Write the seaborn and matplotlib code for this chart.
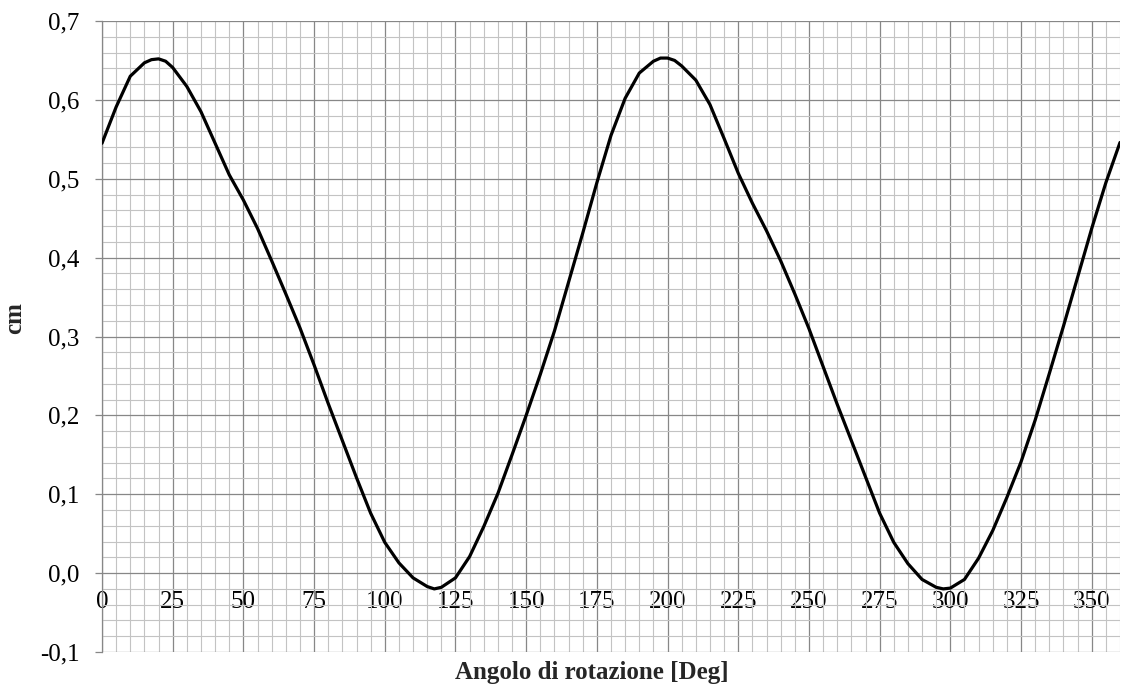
import matplotlib
matplotlib.use("Agg")
import matplotlib.pyplot as plt
from matplotlib.ticker import MultipleLocator, FixedLocator, FixedFormatter
import seaborn as sns
import pandas as pd

# ---- data ----
angle_deg = [0, 5, 10, 15, 17.5, 20, 22.5, 25, 30, 35, 40, 45, 50, 55, 60, 65, 70,
             75, 80, 85, 90, 95, 100, 105, 110, 115, 117.5, 120, 125, 130, 135, 140,
             145, 150, 155, 160, 165, 170, 175, 180, 185, 190, 195, 197.5, 200,
             202.5, 205, 210, 215, 220, 225, 230, 235, 240, 245, 250, 255, 260, 265,
             270, 275, 280, 285, 290, 295, 297.5, 300, 305, 310, 315, 320, 325, 330,
             335, 340, 345, 350, 355, 360]
displacement_cm = [0.545, 0.591, 0.630, 0.647, 0.651, 0.652, 0.649, 0.641, 0.617,
                   0.585, 0.545, 0.505, 0.473, 0.437, 0.396, 0.354, 0.311, 0.264,
                   0.215, 0.168, 0.121, 0.076, 0.039, 0.013, -0.006, -0.017, -0.020,
                   -0.018, -0.006, 0.021, 0.059, 0.101, 0.150, 0.200, 0.252, 0.307,
                   0.369, 0.431, 0.495, 0.555, 0.602, 0.634, 0.649, 0.653, 0.653,
                   0.650, 0.643, 0.625, 0.594, 0.551, 0.507, 0.469, 0.434, 0.396,
                   0.354, 0.310, 0.262, 0.214, 0.168, 0.122, 0.076, 0.039, 0.012,
                   -0.008, -0.018, -0.020, -0.019, -0.008, 0.019, 0.054, 0.096, 0.141,
                   0.194, 0.253, 0.313, 0.375, 0.437, 0.495, 0.546]

x_ticks = [0, 25, 50, 75, 100, 125, 150, 175, 200, 225, 250, 275, 300, 325, 350]
x_tick_labels = [str(v) for v in x_ticks]
y_ticks = [-0.1, 0.0, 0.1, 0.2, 0.3, 0.4, 0.5, 0.6, 0.7]
y_tick_labels = ["-0,1", "0,0", "0,1", "0,2", "0,3", "0,4", "0,5", "0,6", "0,7"]

x_label = "Angolo di rotazione [Deg]"
y_label = "cm"

df = pd.DataFrame({"angle": angle_deg, "cm": displacement_cm})

# ---- style ----
sns.set_style("white")
plt.rcParams["font.family"] = ["Liberation Serif", "DejaVu Serif"]

MAJOR = "#878787"
MINOR = "#c3c3c3"
FS = 18

fig = plt.figure(figsize=(11.22, 6.91), dpi=100)
ax = fig.add_axes([102 / 1122, 1 - 652 / 691, (1120 - 102) / 1122, (652 - 21) / 691])

sns.lineplot(data=df, x="angle", y="cm", ax=ax, color="black", linewidth=2.3,
             zorder=5, legend=False, solid_joinstyle="round", solid_capstyle="round")

ax.set_xlim(0, 360)
ax.set_ylim(-0.1, 0.7)

ax.xaxis.set_major_locator(FixedLocator(x_ticks))
ax.xaxis.set_major_formatter(FixedFormatter(x_tick_labels))
ax.xaxis.set_minor_locator(MultipleLocator(5))
ax.yaxis.set_major_locator(FixedLocator(y_ticks))
ax.yaxis.set_major_formatter(FixedFormatter(y_tick_labels))
ax.yaxis.set_minor_locator(MultipleLocator(0.02))

ax.set_axisbelow(True)
ax.grid(which="minor", color=MINOR, linewidth=0.8, zorder=0)
ax.grid(which="major", color=MAJOR, linewidth=0.9, zorder=1)

for side in ["top", "right", "bottom"]:
    ax.spines[side].set_visible(False)
ax.spines["left"].set_color(MAJOR)
ax.spines["left"].set_linewidth(0.9)

# x axis crosses at y = 0, labels below that line
ax.spines["bottom"].set_position(("data", 0))
ax.tick_params(axis="x", which="major", length=0, pad=13, labelsize=FS, colors="black")
ax.tick_params(axis="x", which="minor", length=0)
ax.tick_params(axis="y", which="major", length=5, width=0.9, color=MAJOR, pad=11,
               labelsize=FS, labelcolor="black", left=True)
ax.tick_params(axis="y", which="minor", length=0)

ax.set_xlabel(x_label, fontsize=FS, fontweight="bold")
ax.set_ylabel(y_label, fontsize=FS, fontweight="bold")
ax.xaxis.label.set_va("center")
ax.yaxis.label.set_va("center")
ax.xaxis.set_label_coords((592 - 102) / 1018, (652 - 672) / 631)
ax.yaxis.set_label_coords((15 - 102) / 1018, (652 - 318) / 631)

fig.savefig("out.png", dpi=100)
